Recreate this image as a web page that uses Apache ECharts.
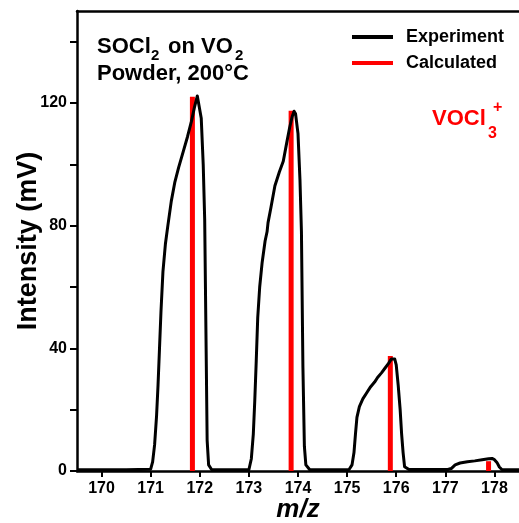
<!DOCTYPE html>
<html>
<head>
<meta charset="utf-8">
<script src="https://cdn.jsdelivr.net/npm/echarts@6/dist/echarts.min.js"></script>
<style>html,body{margin:0;padding:0;background:#fff;}#c{width:519px;height:523px;}</style>
</head>
<body>
<div id="c"></div>
<script>
// Experiment trace (m/z, intensity in mV)
var expMz = [169.5,170.5,171.0,171.04,171.08,171.12,171.15,171.18,171.21,171.25,171.3,171.35,171.42,171.49,171.57,171.66,171.75,171.83,171.89,171.95,171.97,172.03,172.07,172.1,172.13,172.15,172.18,172.24,
  173.0,173.05,173.09,173.12,173.15,173.18,173.22,173.27,173.33,173.37,173.39,173.45,173.53,173.62,173.7,173.77,173.83,173.88,173.92,173.95,174.0,174.04,174.07,174.1,174.13,174.16,174.24,
  175.04,175.1,175.14,175.17,175.2,175.25,175.32,175.4,175.48,175.56,175.62,175.7,175.77,175.84,175.9,175.94,175.97,176.0,176.04,176.08,176.11,176.14,176.17,176.26,
  177.05,177.12,177.2,177.3,177.45,177.6,177.75,177.88,177.95,178.0,178.05,178.1,178.15,178.5];
var expInt = [0.4,0.4,0.6,3,8.5,18,28,40,52,65,74,80,88,94,99,104,109,114,118.5,122.3,122.4,115,100,82,39,10,2,0.5,
  0.4,4,12,23,36,50,60,68,75,78,81,86,93,97.5,101,107,112,115.5,117.3,116.5,110,95,78,34,8,2,0.4,
  0.5,2,6,12,17.5,21,23.5,25.5,27.5,29,30.5,32,33.5,35,36.5,37,36.5,34.6,28,20,12,6,1.4,0.5,
  0.5,0.8,2,2.6,3,3.3,3.7,4,4.1,3.7,2.8,1.3,0.5,0.4];
// Calculated isotope pattern
var calcMz = [171.85, 173.86, 175.88, 177.88];
var calcInt = [122, 117.5, 37.5, 3.2];
// Tick values
var xTicks = [170,171,172,173,174,175,176,177,178];
var yTicks = [0,20,40,60,80,100,120,140];
var yLabels = [0,40,80,120];

var FONT = '"Liberation Sans", Arial, sans-serif';
var expData = expMz.map(function(m,i){return [m, expInt[i]];});
var calcData = calcMz.map(function(m,i){return [m, calcInt[i]];});

function txt(s, x, y, size, color) {
  return {type: 'text', left: x, top: y, silent: true,
    style: {text: s, fill: color, font: 'bold ' + size + 'px ' + FONT}};
}

var chart = echarts.init(document.getElementById('c'), null, {renderer:'canvas'});
chart.setOption({
  animation: false,
  backgroundColor: '#fff',
  grid: {left: 77, right: 0, top: 11, bottom: 52, containLabel: false, outerBoundsMode: 'none'},
  legend: {
    orient: 'vertical', left: 352, top: 27, padding: 0, itemWidth: 41, itemHeight: 4, itemGap: 6, icon: 'rect',
    data: ['Experiment', 'Calculated'],
    textStyle: {fontFamily: FONT, fontWeight: 'bold', fontSize: 18, color: '#000', lineHeight: 20, padding: [0,0,0,8]}
  },
  graphic: [
    txt('SOCl', 97, 36, 22, '#000'),
    txt('2', 151, 48, 15, '#000'),
    txt(' on VO', 162, 36, 22, '#000'),
    txt('2', 235, 48, 15, '#000'),
    txt('Powder, 200°C', 97, 63, 22, '#000'),
    txt('VOCl', 432, 108, 22, '#ff0000'),
    txt('3', 488, 126, 16, '#ff0000'),
    txt('+', 493, 100, 16, '#ff0000')
  ],
  xAxis: [{
    type: 'value', min: 169.5, max: 178.5,
    name: 'm/z', nameLocation: 'middle', nameGap: 26, nameMoveOverlap: false,
    nameTextStyle: {fontFamily: FONT, fontWeight: 'bold', fontStyle: 'italic', fontSize: 26, color: '#000'},
    axisLine: {show: true, onZero: false, lineStyle: {color: '#000', width: 2.5}},
    axisTick: {show: true, length: 6, customValues: xTicks, lineStyle: {color: '#000', width: 2}},
    axisLabel: {customValues: xTicks, margin: 10, fontFamily: FONT, fontWeight: 'bold', fontSize: 16, color: '#000'},
    splitLine: {show: false}
  }, {
    type: 'value', min: 169.5, max: 178.5, position: 'top',
    axisLine: {show: true, onZero: false, lineStyle: {color: '#000', width: 2.5}},
    axisTick: {show: false}, axisLabel: {show: false}, splitLine: {show: false}
  }],
  yAxis: {
    type: 'value', min: 0, max: 150,
    name: 'Intensity (mV)', nameLocation: 'middle', nameGap: 35, nameMoveOverlap: false,
    nameTextStyle: {fontFamily: FONT, fontWeight: 'bold', fontSize: 27, color: '#000'},
    axisLine: {show: true, lineStyle: {color: '#000', width: 2.5}},
    axisTick: {show: true, length: 7, customValues: yTicks, lineStyle: {color: '#000', width: 2}},
    axisLabel: {customValues: yLabels, margin: 10, fontFamily: FONT, fontWeight: 'bold', fontSize: 16, color: '#000'},
    splitLine: {show: false}
  },
  series: [
    {name: 'Calculated', type: 'bar', data: calcData, barWidth: 5, itemStyle: {color: '#ff0000'}, z: 2},
    {name: 'Experiment', type: 'line', data: expData, showSymbol: false, symbol: 'none',
      lineStyle: {color: '#000', width: 3, join: 'round'}, itemStyle: {color: '#000'}, z: 3}
  ]
});
</script>
</body>
</html>
